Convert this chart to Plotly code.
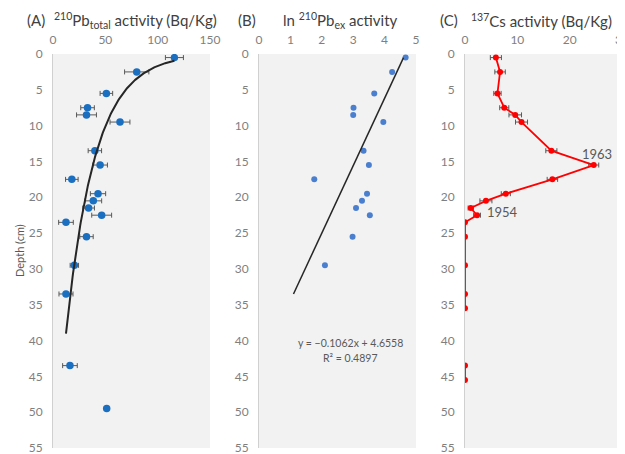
import numpy as np
import plotly.graph_objects as go

# ---------------- data ----------------
# Panel A: 210Pb total activity (Bq/Kg) vs depth (cm)
pb_depth = [0.5, 2.5, 5.5, 7.5, 8.5, 9.5, 13.5, 15.5, 17.5, 19.5, 20.5, 21.5, 22.5,
            23.5, 25.5, 29.5, 33.5, 43.5, 49.5]
pb_total = [116, 80, 51, 33, 32, 64, 40, 45, 18, 43, 38.5, 34, 46.5,
            12.4, 32, 20.4, 12.4, 16.2, 51.3]
pb_err = [8.6, 11.6, 6, 6.5, 9.5, 9.5, 6.4, 7, 6, 7.3, 8, 5.6, 9.5,
          7, 6.4, 4, 6.7, 7, 0]
# exponential trendline: depth = A * exp(-K * activity)
PB_FIT_A = 61.0
PB_FIT_K = 0.036

# Panel B: ln 210Pb excess activity vs depth
ln_depth = [0.5, 2.5, 5.5, 7.5, 8.5, 9.5, 13.5, 15.5, 17.5, 19.5, 20.5, 21.5, 22.5, 25.5, 29.5]
ln_pbex = [4.67, 4.24, 3.67, 3.01, 3.0, 3.96, 3.33, 3.50, 1.76, 3.44, 3.28, 3.09, 3.53, 2.98, 2.10]
LN_SLOPE = -0.1062
LN_INTERCEPT = 4.6558
LN_R2 = 0.4897
LN_FIT_DEPTH = [0.5, 33.5]

# Panel C: 137Cs activity (Bq/Kg) vs depth
cs_depth = [0.5, 2.5, 5.5, 7.5, 8.5, 9.5, 13.5, 15.5, 17.5, 19.5, 20.5, 21.5, 22.5,
            23.5, 25.5, 29.5, 33.5, 35.5, 39.5, 43.5, 45.5]
cs_act = [5.9, 6.7, 6.2, 7.5, 9.6, 10.8, 16.5, 24.6, 16.7, 7.8, 4.0, 1.1, 2.3,
          0, 0, 0, 0, 0, None, 0, 0]
cs_err = [1.06, 1.0, 0.7, 0.87, 1.2, 1.15, 1.06, 0.96, 1.0, 0.87, 1.15, 0.5, 0.65,
          0, 0, 0, 0, 0, 0, 0, 0]
cs_labels = [("1963", 25.2, 13.9), ("1954", 7.1, 22.1)]

depth_ticks = list(range(0, 60, 5))

# ---------------- figure ----------------
FONT = "Lato"
TICK_COLOR = "#7f7f7f"
TEXT_COLOR = "#404040"
OFF = 8                      # page body margin offset
W, H = 625 - OFF, 454 - OFF
TOP, BOT = 54 - OFF, 6

def px(x):                   # screen x -> paper x
    return (x - OFF) / W

def py(y):                   # screen y -> paper y
    return (H - BOT - (y - OFF)) / (H - TOP - BOT)

fig = go.Figure()

# A
fig.add_trace(go.Scatter(
    x=pb_total, y=pb_depth, mode="markers",
    marker=dict(color="#1a6fc0", size=7.5),
    error_x=dict(type="data", array=pb_err, color="#595959", thickness=1, width=2.5),
    xaxis="x", yaxis="y", showlegend=False))
xf = np.linspace(min(pb_total), max(pb_total), 200)
fig.add_trace(go.Scatter(
    x=xf, y=PB_FIT_A * np.exp(-PB_FIT_K * xf), mode="lines",
    line=dict(color="#262626", width=2), xaxis="x", yaxis="y", showlegend=False))

# B
fig.add_trace(go.Scatter(
    x=ln_pbex, y=ln_depth, mode="markers",
    marker=dict(color="#4a7fcf", size=6),
    xaxis="x2", yaxis="y2", showlegend=False))
df = np.array(LN_FIT_DEPTH)
fig.add_trace(go.Scatter(
    x=LN_SLOPE * df + LN_INTERCEPT, y=df, mode="lines",
    line=dict(color="#262626", width=1.5), xaxis="x2", yaxis="y2", showlegend=False))

# C
fig.add_trace(go.Scatter(
    x=cs_act, y=cs_depth, mode="lines+markers", connectgaps=False,
    line=dict(color="#ff0000", width=1.8),
    marker=dict(color="#ff0000", size=6),
    error_x=dict(type="data", array=cs_err, color="#595959", thickness=1, width=2.5),
    xaxis="x3", yaxis="y3", showlegend=False))

domains = [(px(53), px(210)), (px(259), px(416)), (px(465), px(622))]
xranges = [[0, 150], [0, 5], [0, 30]]
xdticks = [50, 1, 10]

layout = dict(
    width=W, height=H,
    margin=dict(l=0, r=0, t=TOP, b=BOT, autoexpand=False),
    paper_bgcolor="white",
    plot_bgcolor="#f2f2f2",
    font=dict(family=FONT, color=TICK_COLOR, size=12),
)
for i in range(3):
    s = "" if i == 0 else str(i + 1)
    layout["xaxis" + s] = dict(
        domain=list(domains[i]), range=xranges[i], side="top", dtick=xdticks[i],
        showgrid=False, zeroline=False, showline=False, ticks="",
        ticklabelstandoff=7, automargin=False, ticklabeloverflow="allow",
        tickfont=dict(size=12, color=TICK_COLOR), anchor="y" + s, fixedrange=True)
    layout["yaxis" + s] = dict(
        range=[55, 0], tickvals=depth_ticks, showgrid=False, zeroline=False,
        showline=True, linecolor="#d0d0d0", linewidth=1, ticks="",
        ticklabelstandoff=7, automargin=False, ticklabeloverflow="allow",
        tickfont=dict(size=12, color=TICK_COLOR), anchor="x" + s, fixedrange=True)

fig.update_layout(**layout)
for i in range(3):
    fig.add_shape(type="rect", xref="paper", yref="paper",
                  x0=domains[i][0], x1=domains[i][1], y0=0, y1=1,
                  fillcolor="#f2f2f2", line=dict(width=0), layer="below")

fig.add_annotation(x=px(19), y=py(251), xref="paper", yref="paper", text="Depth (cm)",
                   textangle=-90, showarrow=False, font=dict(size=11, color="#595959"),
                   xanchor="center", yanchor="middle")

titles = [
    ("(A)", 36, "<sup>210</sup>Pb<sub>total</sub> activity (Bq/Kg)", 135),
    ("(B)", 247, "ln <sup>210</sup>Pb<sub>ex</sub> activity", 340),
    ("(C)", 449, "<sup>137</sup>Cs activity (Bq/Kg)", 541),
]
for lab, lx, txt, tx in titles:
    fig.add_annotation(x=px(lx), y=py(20), xref="paper", yref="paper",
                       text=lab, showarrow=False, font=dict(size=15, color=TEXT_COLOR),
                       xanchor="center", yanchor="middle")
    fig.add_annotation(x=px(tx), y=py(20), xref="paper", yref="paper",
                       text=txt, showarrow=False, font=dict(size=15, color=TEXT_COLOR),
                       xanchor="center", yanchor="middle")

fig.add_annotation(x=2.9, y=40.3, xref="x2", yref="y2", showarrow=False,
                   text="y = \u22120.1062x + 4.6558", font=dict(size=10.5, color="#595959"))
fig.add_annotation(x=2.9, y=42.4, xref="x2", yref="y2", showarrow=False,
                   text="R\u00b2 = " + f"{LN_R2:.4f}", font=dict(size=10.5, color="#595959"))

for t, xv, yv in cs_labels:
    fig.add_annotation(x=xv, y=yv, xref="x3", yref="y3", showarrow=False,
                       text=t, font=dict(size=13, color="#595959"))

fig.write_html("out.html")
